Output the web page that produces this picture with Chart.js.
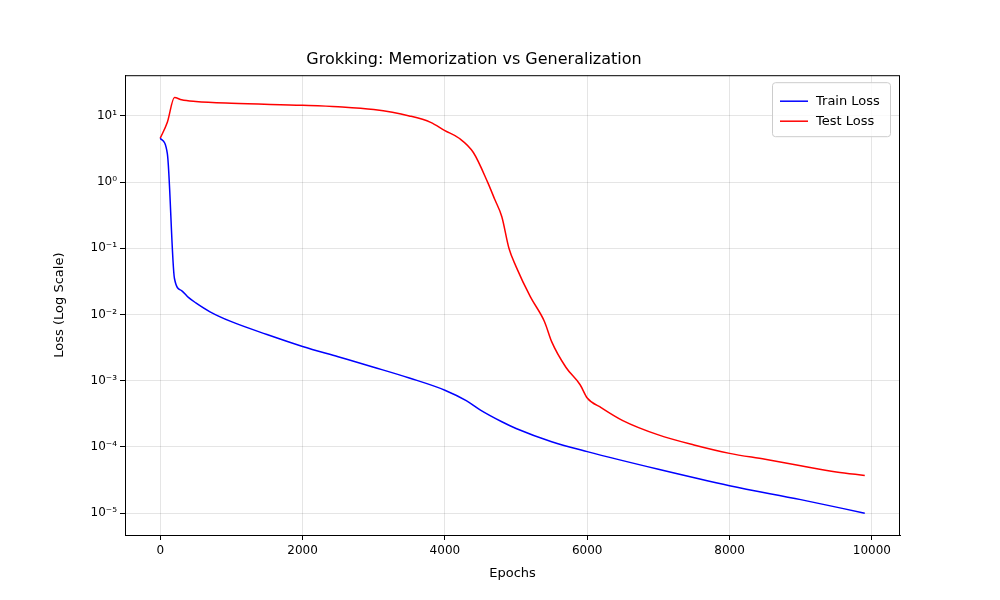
<!DOCTYPE html>
<html><head><script src="https://cdn.jsdelivr.net/npm/chart.js@4"></script>
<style>body{margin:0;background:#fff}#w{width:1000px;height:600px}</style></head>
<body><div id="w"><canvas id="c"></canvas></div>
<script>
const trainEpochs=[0,100,200,300,400,500,700,1000,1500,2000,2500,3000,3500,4000,4300,4500,4800,5000,5500,6000,7000,8000,9000,9900];
const trainLoss=[4.6,2.7,0.035,0.023,0.018,0.015,0.011,0.0078,0.005,0.0033,0.0023,0.0016,0.0011,0.00072,0.0005,0.00036,0.00024,0.00019,0.00012,0.000085,0.000046,0.000026,0.000016,0.00001];
const testEpochs=[0,100,200,300,500,1000,2000,2500,3000,3500,3800,4000,4200,4400,4600,4700,4800,4900,5000,5200,5400,5500,5700,5900,6000,6200,6500,7000,7500,8000,8500,9000,9500,9900];
const testLoss=[4.6,8,19,17.5,16.5,15.5,14.5,13.8,12.5,10,8,6,4.6,2.8,1.0,0.55,0.3,0.1,0.053,0.0186,0.0078,0.0039,0.0016,0.00087,0.00055,0.00039,0.00025,0.000152,0.000107,0.00008,0.000065,0.000052,0.000042,0.000037];
const xTicks=[0,2000,4000,6000,8000,10000];
const yTicks=[1e-5,1e-4,1e-3,1e-2,1e-1,1,10];
const sup={'-':'⁻','0':'⁰','1':'¹','2':'²','3':'³','4':'⁴','5':'⁵','6':'⁶','7':'⁷','8':'⁸','9':'⁹'};
const pts=(xs,ys)=>xs.map((x,i)=>({x,y:ys[i]}));
Chart.defaults.font.family='DejaVu Sans';Chart.defaults.color='#000';
const extras={id:'ex',afterDraw(ch){const a=ch.chartArea,c=ch.ctx;c.save();
c.strokeStyle='#000';c.lineWidth=1;c.strokeRect(a.left+0.5,a.top+0.5,a.right-a.left-1,a.bottom-a.top);
const w=118,h=54,x=a.right-10-w,y=a.top+7;
c.fillStyle='rgba(255,255,255,0.8)';c.strokeStyle='#ccc';c.beginPath();c.roundRect(x+0.5,y+0.5,w,h,3);c.fill();c.stroke();
c.font='13px DejaVu Sans';c.textBaseline='middle';
ch.data.datasets.forEach((d,i)=>{const yy=y+h/2-10+i*20+2;c.strokeStyle=d.borderColor;c.lineWidth=1.5;c.beginPath();c.moveTo(x+8,yy);c.lineTo(x+36,yy);c.stroke();c.fillStyle='#000';c.fillText(d.label,x+44,yy);});
c.restore();}};
new Chart(document.getElementById('c'),{type:'line',
data:{datasets:[
{label:'Train Loss',data:pts(trainEpochs,trainLoss),borderColor:'#0000ff',borderWidth:1.5,pointRadius:0,cubicInterpolationMode:'monotone'},
{label:'Test Loss',data:pts(testEpochs,testLoss),borderColor:'#ff0000',borderWidth:1.5,pointRadius:0,cubicInterpolationMode:'monotone'}]},
options:{responsive:true,maintainAspectRatio:false,animation:false,
layout:{padding:{left:48,right:100,top:10,bottom:15}},
plugins:{title:{display:true,text:'Grokking: Memorization vs Generalization',font:{size:16,weight:'normal'},padding:{top:40,bottom:6}},
legend:{display:false},tooltip:{enabled:false}},
scales:{
x:{type:'linear',min:-495,max:10395,afterBuildTicks:a=>{a.ticks=xTicks.map(v=>({value:v}))},
ticks:{font:{size:12},padding:4,callback:v=>String(v)},grid:{color:'rgba(0,0,0,0.1)',tickLength:5,tickColor:'#000'},border:{color:'#000'},
title:{display:true,text:'Epochs',font:{size:13}},afterFit:s=>{s.height=50}},
y:{type:'logarithmic',min:Math.pow(10,-5.33),max:Math.pow(10,1.615),afterBuildTicks:a=>{a.ticks=yTicks.map(v=>({value:v}))},
ticks:{font:{size:12},callback:v=>'10'+String(Math.round(Math.log10(v))).split('').map(ch=>sup[ch]).join('')},
grid:{color:'rgba(0,0,0,0.1)',tickLength:5,tickColor:'#000'},border:{color:'#000'},
title:{display:true,text:'Loss (Log Scale)',font:{size:13}},afterFit:s=>{s.width=77}}}},
plugins:[extras]});
</script></body></html>
